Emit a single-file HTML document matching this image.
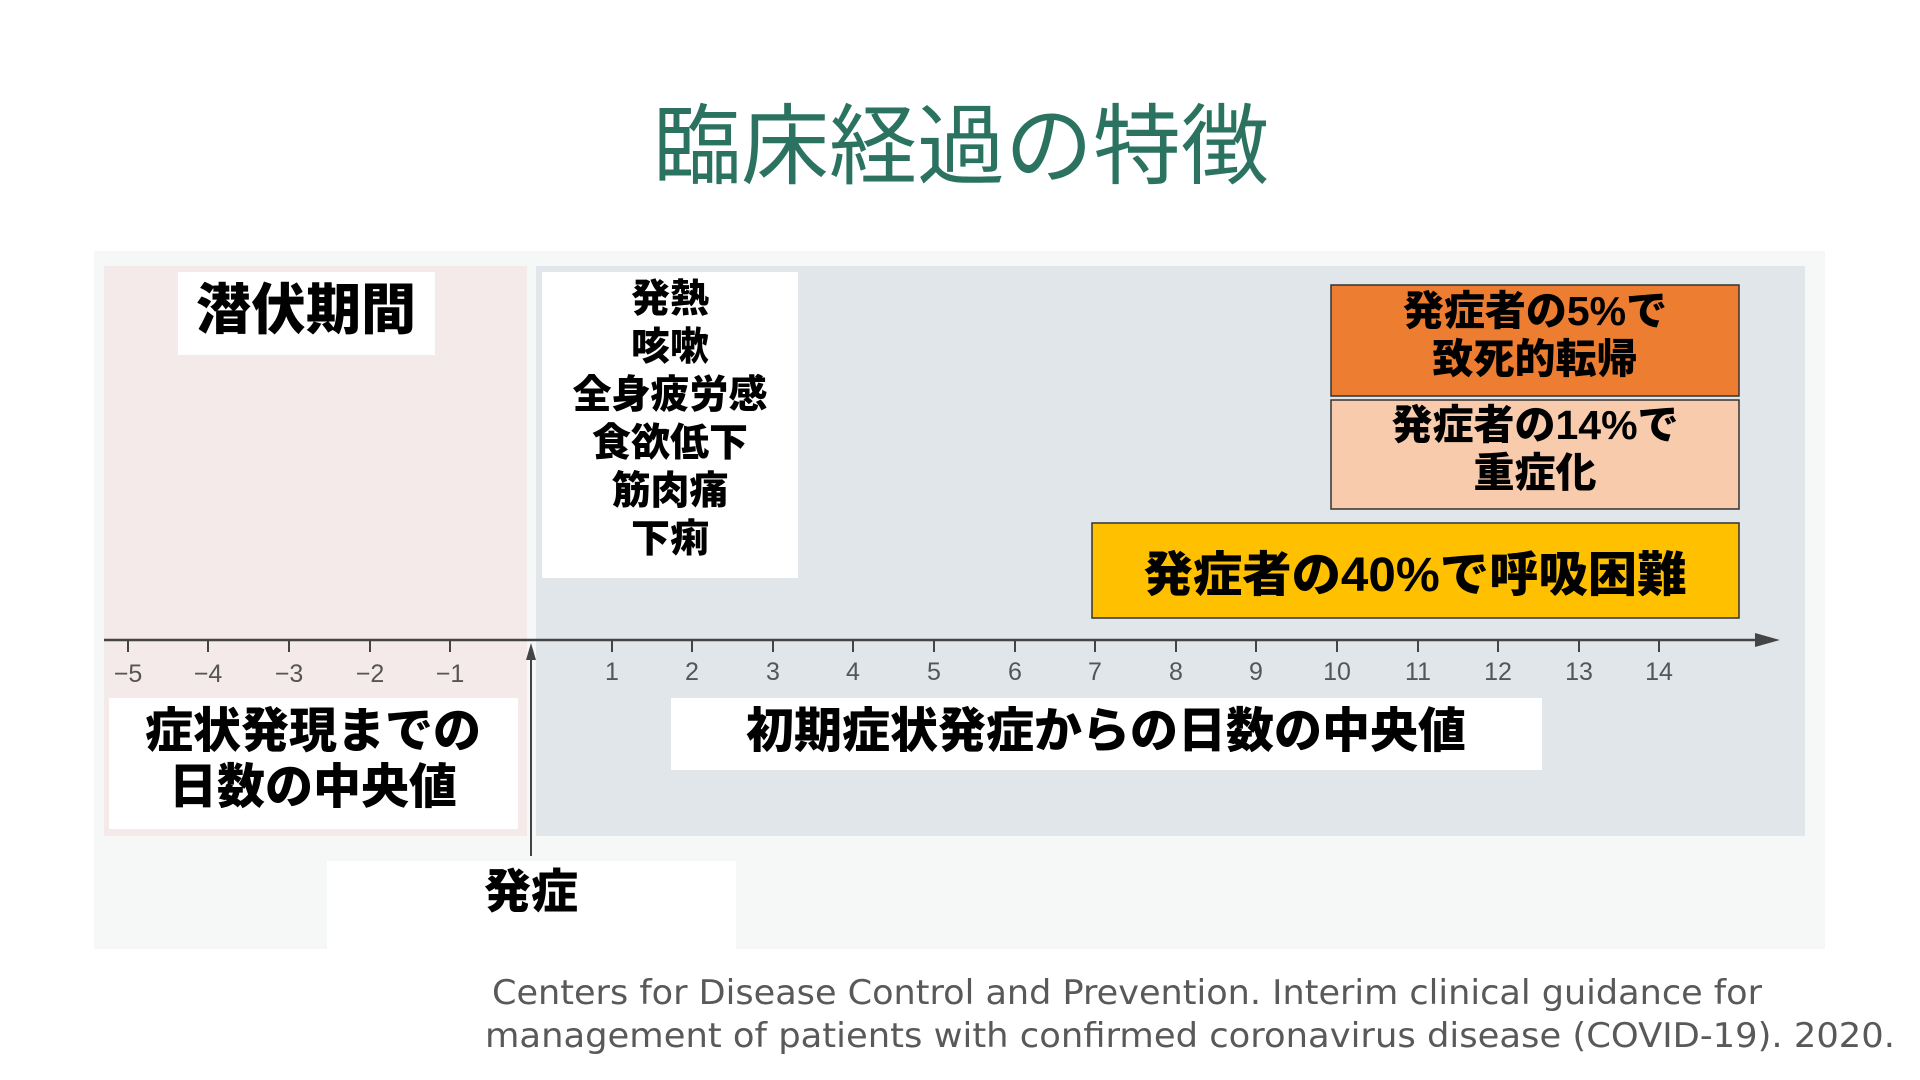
<!DOCTYPE html>
<html><head><meta charset="utf-8"><style>
html,body{margin:0;padding:0;background:#fff;}
svg{display:block;}
.jp{font-family:"Liberation Sans","Noto Sans CJK JP",sans-serif;font-weight:900;fill:#000;}
.num{font-family:"Liberation Sans Narrow","Liberation Sans",sans-serif;fill:#555;font-size:25px;}
</style></head><body>
<svg width="1920" height="1080" viewBox="0 0 1920 1080" xmlns="http://www.w3.org/2000/svg">
<rect width="1920" height="1080" fill="#fff"/>
<text x="961" y="177" text-anchor="middle" font-family="'Liberation Sans','Noto Sans CJK JP',sans-serif" font-size="88" fill="#2b7360">臨床経過の特徴</text>
<rect x="94" y="251" width="1731" height="698" fill="#f6f8f8"/>
<rect x="104" y="266" width="423" height="570" fill="#f5eaea"/>
<rect x="536" y="266" width="1269" height="570" fill="#e1e6ea"/>
<rect x="178" y="272" width="257" height="83" fill="#fff"/>
<text class="jp" x="306" y="329" text-anchor="middle" font-size="55">潜伏期間</text>
<rect x="542" y="272" width="256" height="306" fill="#fff"/>
<g class="jp" font-size="39" text-anchor="middle">
<text x="670" y="312">発熱</text><text x="670" y="360">咳嗽</text><text x="670" y="408">全身疲労感</text>
<text x="670" y="456">食欲低下</text><text x="670" y="504">筋肉痛</text><text x="670" y="552">下痢</text>
</g>
<rect x="1331" y="285" width="408" height="111" fill="#ed7d31" stroke="#333" stroke-width="1.5"/>
<g class="jp" font-size="41" text-anchor="middle"><text x="1535" y="325">発症者の5%で</text><text x="1535" y="373">致死的転帰</text></g>
<rect x="1331" y="400" width="408" height="109" fill="#f8cbad" stroke="#333" stroke-width="1.5"/>
<g class="jp" font-size="41" text-anchor="middle"><text x="1535" y="439">発症者の14%で</text><text x="1535" y="487">重症化</text></g>
<rect x="1092" y="523" width="647" height="95" fill="#ffc000" stroke="#333" stroke-width="1.5"/>
<text class="jp" x="1415" y="591" text-anchor="middle" font-size="48" textLength="543" lengthAdjust="spacingAndGlyphs">発症者の40%で呼吸困難</text>
<line x1="104" y1="640" x2="1765" y2="640" stroke="#444" stroke-width="2.5"/>
<polygon points="1780,640 1755,633 1755,647" fill="#444"/>
<g stroke="#444" stroke-width="2">
<line x1="128" y1="640" x2="128" y2="652"/><line x1="208" y1="640" x2="208" y2="652"/><line x1="289" y1="640" x2="289" y2="652"/><line x1="370" y1="640" x2="370" y2="652"/><line x1="450" y1="640" x2="450" y2="652"/>
<line x1="612" y1="640" x2="612" y2="652"/><line x1="692" y1="640" x2="692" y2="652"/><line x1="773" y1="640" x2="773" y2="652"/><line x1="853" y1="640" x2="853" y2="652"/><line x1="934" y1="640" x2="934" y2="652"/><line x1="1015" y1="640" x2="1015" y2="652"/><line x1="1095" y1="640" x2="1095" y2="652"/><line x1="1176" y1="640" x2="1176" y2="652"/><line x1="1256" y1="640" x2="1256" y2="652"/><line x1="1337" y1="640" x2="1337" y2="652"/><line x1="1418" y1="640" x2="1418" y2="652"/><line x1="1498" y1="640" x2="1498" y2="652"/><line x1="1579" y1="640" x2="1579" y2="652"/><line x1="1659" y1="640" x2="1659" y2="652"/>
</g>
<g class="num" text-anchor="middle">
<text x="128" y="682">−5</text><text x="208" y="682">−4</text><text x="289" y="682">−3</text><text x="370" y="682">−2</text><text x="450" y="682">−1</text>
<text x="612" y="680">1</text><text x="692" y="680">2</text><text x="773" y="680">3</text><text x="853" y="680">4</text><text x="934" y="680">5</text><text x="1015" y="680">6</text><text x="1095" y="680">7</text><text x="1176" y="680">8</text><text x="1256" y="680">9</text><text x="1337" y="680">10</text><text x="1418" y="680">11</text><text x="1498" y="680">12</text><text x="1579" y="680">13</text><text x="1659" y="680">14</text>
</g>
<line x1="531" y1="656" x2="531" y2="856" stroke="#444" stroke-width="2"/>
<polygon points="531,643 526,660 536,660" fill="#444"/>
<rect x="109" y="698" width="409" height="131" fill="#fff"/>
<g class="jp" font-size="48" text-anchor="middle"><text x="313" y="747">症状発現までの</text><text x="313" y="803">日数の中央値</text></g>
<rect x="671" y="698" width="871" height="72" fill="#fff"/>
<text class="jp" x="1106" y="747" text-anchor="middle" font-size="48">初期症状発症からの日数の中央値</text>
<rect x="327" y="861" width="409" height="88" fill="#fff"/>
<text class="jp" x="531" y="908" text-anchor="middle" font-size="47">発症</text>
<g font-family="'DejaVu Sans',sans-serif" font-size="34" fill="#595959">
<text x="492" y="1004" textLength="1270" lengthAdjust="spacingAndGlyphs">Centers for Disease Control and Prevention. Interim clinical guidance for</text>
<text x="485" y="1047" textLength="1410" lengthAdjust="spacingAndGlyphs">management of patients with confirmed coronavirus disease (COVID-19). 2020.</text>
</g>
</svg>
</body></html>
